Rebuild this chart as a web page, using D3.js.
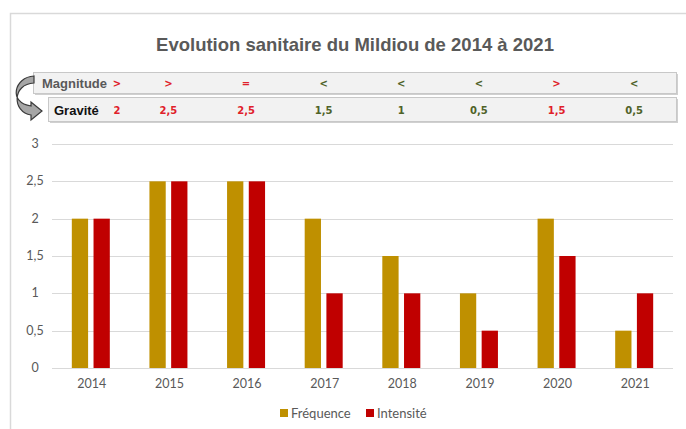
<!DOCTYPE html>
<html>
<head>
<meta charset="utf-8">
<script src="https://cdn.jsdelivr.net/npm/d3@7"></script>
<style>
  body { margin: 0; background: #fff; }
  svg { display: block; }
</style>
</head>
<body>
<div id="chart"></div>
<script>
var years = ["2014", "2015", "2016", "2017", "2018", "2019", "2020", "2021"];
var frequence = [2, 2.5, 2.5, 2, 1.5, 1, 2, 0.5];
var intensite = [2, 2.5, 2.5, 1, 1, 0.5, 1.5, 1];
var magnitude = [">", ">", "=", "<", "<", "<", ">", "<"];
var gravite = ["2", "2,5", "2,5", "1,5", "1", "0,5", "1,5", "0,5"];
var yTicks = [0, 0.5, 1, 1.5, 2, 2.5, 3];
var series = ["Fréquence", "Intensité"];
var colors = ["#BF9000", "#C00000"];

var width = 686, height = 429;
var margin = { top: 144, right: 13, bottom: 61, left: 52 };
var innerW = width - margin.left - margin.right,
    innerH = height - margin.top - margin.bottom;

var svg = d3.select("#chart")
    .append("svg")
    .attr("width", width)
    .attr("height", height);

// frame
svg.append("path")
    .attr("d", "M10.5," + height + "V13.5H" + width)
    .attr("fill", "none")
    .attr("stroke", "#d9d9d9")
    .attr("stroke-width", 1.5);

// title
svg.append("text")
    .attr("x", 355)
    .attr("y", 51)
    .attr("text-anchor", "middle")
    .style("font-family", "'Liberation Sans', Arial, sans-serif")
    .style("font-weight", "bold")
    .style("font-size", "18.5px")
    .style("fill", "#595959")
    .text("Evolution sanitaire du Mildiou de 2014 à 2021");

var x = d3.scaleBand()
    .domain(years)
    .range([margin.left, margin.left + innerW])
    .paddingInner(0)
    .paddingOuter(0);

var x1 = d3.scaleBand()
    .domain(series)
    .range([0, 38])
    .paddingInner(0.25);

var y = d3.scaleLinear()
    .domain([0, 3])
    .range([margin.top + innerH, margin.top]);

// table boxes
function box(x0, y0, x1b, y1b) {
    svg.append("rect")
        .attr("x", x0 + 2).attr("y", y0 + 2)
        .attr("width", x1b - x0).attr("height", y1b - y0)
        .attr("fill", "#d0d0d0");
    svg.append("rect")
        .attr("x", x0 + 0.5).attr("y", y0 + 0.5)
        .attr("width", x1b - x0).attr("height", y1b - y0)
        .attr("fill", "#f2f2f2")
        .attr("stroke", "#c8c8c8");
}
box(33, 72, 676, 93);
box(48, 97, 676, 121);

// curved arrow
svg.append("path")
    .attr("d", "M34,76 C14,77 8,103 31,106 L31,102 L42,111 L31,120 L31,115 C12,112 12,84 34,83 Z")
    .attr("fill", "#a6a6a6")
    .attr("stroke", "#3a3a3a")
    .attr("stroke-width", 1.2);

svg.append("text")
    .attr("x", 42).attr("y", 88)
    .style("font-family", "'Liberation Sans', Arial, sans-serif")
    .style("font-weight", "bold")
    .style("font-size", "13px")
    .style("fill", "#595959")
    .text("Magnitude");

svg.append("text")
    .attr("x", 54).attr("y", 114.5)
    .style("font-family", "'Liberation Sans', Arial, sans-serif")
    .style("font-weight", "bold")
    .style("font-size", "13px")
    .style("fill", "#111")
    .text("Gravité");

function colX(i) {
    return Math.max(x(years[i]) + x.bandwidth() / 2, 117);
}
function symColor(s) {
    return s == "<" ? "#4F6228" : "#E0202A";
}

svg.append("g").selectAll("text")
    .data(magnitude)
    .enter().append("text")
    .attr("x", function (d, i) { return colX(i); })
    .attr("y", 87)
    .attr("text-anchor", "middle")
    .style("font-family", "'DejaVu Sans', Verdana, sans-serif")
    .style("font-weight", "bold")
    .style("font-size", "10px")
    .style("fill", function (d) { return symColor(d); })
    .text(function (d) { return d; });

svg.append("g").selectAll("text")
    .data(gravite)
    .enter().append("text")
    .attr("x", function (d, i) { return colX(i); })
    .attr("y", 113.5)
    .attr("text-anchor", "middle")
    .style("font-family", "'DejaVu Sans', Verdana, sans-serif")
    .style("font-weight", "bold")
    .style("font-size", "10px")
    .style("fill", function (d, i) { return symColor(magnitude[i]); })
    .text(function (d) { return d; });

// gridlines
svg.append("g").selectAll("line")
    .data(yTicks)
    .enter().append("line")
    .attr("x1", margin.left)
    .attr("x2", margin.left + innerW)
    .attr("y1", function (d) { return Math.round(y(d)) + 0.5; })
    .attr("y2", function (d) { return Math.round(y(d)) + 0.5; })
    .attr("stroke", "#d9d9d9")
    .attr("stroke-width", 1);

// y labels
svg.append("g").selectAll("text")
    .data(yTicks)
    .enter().append("text")
    .attr("x", 35)
    .attr("y", function (d) { return y(d) + 4; })
    .attr("text-anchor", "middle")
    .style("font-family", "Lato, 'Open Sans', sans-serif")
    .style("font-size", "12.5px")
    .style("fill", "#595959")
    .text(function (d) { return String(d).replace(".", ","); });

// bars
var groups = svg.append("g").selectAll("g")
    .data(years)
    .enter().append("g")
    .attr("transform", function (d) { return "translate(" + (x(d) + x.bandwidth() / 2 - 19) + ",0)"; });

groups.selectAll("rect")
    .data(function (d, i) { return [frequence[i], intensite[i]]; })
    .enter().append("rect")
    .attr("x", function (d, j) { return x1(series[j]); })
    .attr("width", x1.bandwidth())
    .attr("y", function (d) { return y(d); })
    .attr("height", function (d) { return y(0) - y(d); })
    .attr("fill", function (d, j) { return colors[j]; });

// x labels
svg.append("g").selectAll("text")
    .data(years)
    .enter().append("text")
    .attr("x", function (d) { return x(d) + x.bandwidth() / 2 + 1; })
    .attr("y", y(0) + 20)
    .attr("text-anchor", "middle")
    .style("font-family", "Lato, 'Open Sans', sans-serif")
    .style("font-size", "12.5px")
    .style("fill", "#595959")
    .text(function (d) { return d; });

// legend
var legend = svg.append("g");
var legX = [280, 366];
series.forEach(function (s, i) {
    legend.append("rect")
        .attr("x", legX[i]).attr("y", 409)
        .attr("width", 8).attr("height", 8)
        .attr("fill", colors[i]);
    legend.append("text")
        .attr("x", legX[i] + 11).attr("y", 417.5)
        .style("font-family", "Lato, 'Open Sans', sans-serif")
        .style("font-size", "13px")
        .style("fill", "#595959")
        .text(s);
});
</script>
</body>
</html>
